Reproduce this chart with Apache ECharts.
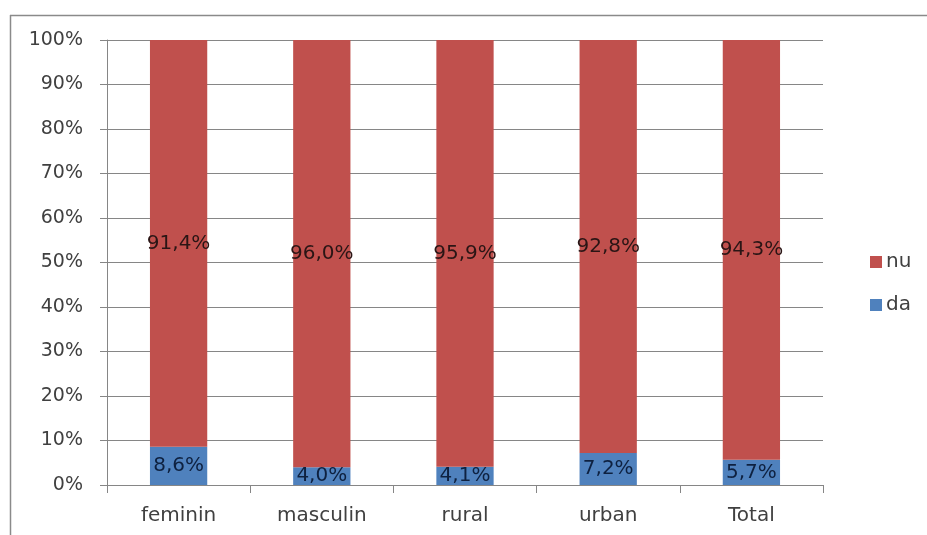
<!DOCTYPE html>
<html>
<head>
<meta charset="utf-8">
<script src="https://cdn.jsdelivr.net/npm/echarts@6/dist/echarts.min.js"></script>
<style>
html,body{margin:0;padding:0;background:#fff;}
#chart{width:927px;height:535px;}
</style>
</head>
<body>
<div id="chart"></div>
<script>
const categories = ['feminin', 'masculin', 'rural', 'urban', 'Total'];
const daValues = [8.6, 4.0, 4.1, 7.2, 5.7];
const nuValues = [91.4, 96.0, 95.9, 92.8, 94.3];
const yTicks = [0, 10, 20, 30, 40, 50, 60, 70, 80, 90, 100];

const FONT = 'DejaVu Sans';
const fmt = v => v.toFixed(1).replace('.', ',') + '%';

const chart = echarts.init(document.getElementById('chart'), null, {renderer: 'canvas'});
chart.setOption({
  backgroundColor: '#ffffff',
  animation: false,
  textStyle: {fontFamily: FONT},
  graphic: [
    {type: 'line', shape: {x1: 10, y1: 15.5, x2: 927, y2: 15.5}, style: {stroke: '#8a8a8a', lineWidth: 1.5}},
    {type: 'line', shape: {x1: 10.5, y1: 15, x2: 10.5, y2: 535}, style: {stroke: '#8a8a8a', lineWidth: 1.5}}
  ],
  grid: {left: 107, right: 104, top: 40, bottom: 50, containLabel: false},
  legend: {
    data: ['nu', 'da'],
    orient: 'vertical',
    left: 865,
    top: 247,
    itemWidth: 12,
    itemHeight: 12,
    itemGap: 23,
    icon: 'rect',
    textStyle: {fontFamily: FONT, fontSize: 20, color: '#404040', padding: [0, 0, 0, -1]}
  },
  xAxis: {
    type: 'category',
    data: categories,
    axisLine: {lineStyle: {color: '#868686', width: 1}},
    axisTick: {show: true, length: 8, alignWithLabel: false, lineStyle: {color: '#868686'}},
    axisLabel: {fontFamily: FONT, fontSize: 20, color: '#404040', margin: 21}
  },
  yAxis: {
    type: 'value',
    min: yTicks[0],
    max: yTicks[yTicks.length - 1],
    interval: 10,
    axisLine: {show: true, lineStyle: {color: '#868686', width: 1}},
    axisTick: {show: true, length: 7, lineStyle: {color: '#868686'}},
    splitLine: {show: true, lineStyle: {color: '#868686', width: 1}},
    axisLabel: {fontFamily: FONT, fontSize: 19, color: '#404040', margin: 24, formatter: '{value}%'}
  },
  series: [
    {
      name: 'da',
      type: 'bar',
      stack: 'total',
      barWidth: '40%',
      data: daValues,
      itemStyle: {color: '#4F81BD'},
      label: {show: true, position: 'inside', fontFamily: FONT, fontSize: 20, color: '#0e2140',
        formatter: p => fmt(p.value)}
    },
    {
      name: 'nu',
      type: 'bar',
      stack: 'total',
      barWidth: '40%',
      data: nuValues,
      itemStyle: {color: '#C0504D'},
      label: {show: true, position: 'inside', fontFamily: FONT, fontSize: 20, color: '#2a1515',
        formatter: p => fmt(p.value)}
    }
  ]
});
</script>
</body>
</html>
